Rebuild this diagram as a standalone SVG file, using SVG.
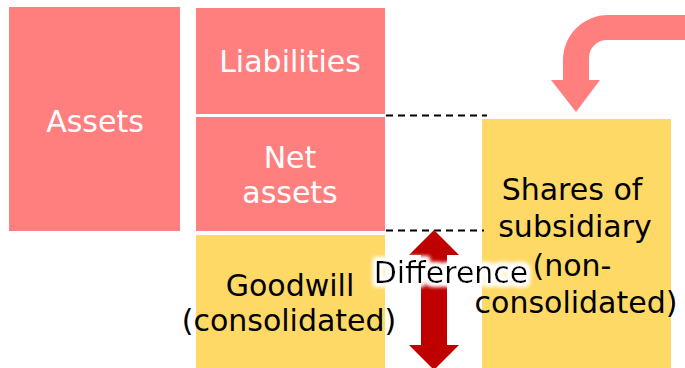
<svg xmlns="http://www.w3.org/2000/svg" width="685" height="368" viewBox="0 0 685 368">
  <defs>
    <style>
      .pink { fill: #FF7F7F; }
      .gold { fill: #FFD966; }
      .lbl { font-family: "DejaVu Sans", Verdana, sans-serif; font-size: 30px; text-anchor: middle; }
      .white { fill: #FFFFFF; }
      .dark { fill: #000000; }
      .dash { stroke: #000000; stroke-width: 2; stroke-dasharray: 7 5; fill: none; }
    </style>
    <filter id="halo" x="-10%" y="-30%" width="120%" height="160%">
      <feMorphology in="SourceAlpha" operator="dilate" radius="2.5" result="grow"/>
      <feGaussianBlur in="grow" stdDeviation="2" result="soft"/>
      <feFlood flood-color="#FFFFFF"/>
      <feComposite in2="soft" operator="in" result="glow"/>
      <feMerge>
        <feMergeNode in="glow"/>
        <feMergeNode in="glow"/>
        <feMergeNode in="SourceGraphic"/>
      </feMerge>
    </filter>
  </defs>

  <rect width="685" height="368" fill="#FFFFFF"/>

  <g id="assets">
    <rect class="pink" x="9" y="7" width="171" height="224"/>
    <text class="lbl white" x="95" y="132">Assets</text>
  </g>

  <g id="liabilities">
    <rect class="pink" x="196" y="8" width="189" height="106"/>
    <text class="lbl white" x="290" y="72">Liabilities</text>
  </g>

  <g id="net-assets">
    <rect class="pink" x="196" y="117" width="189" height="114"/>
    <text class="lbl white" x="290" y="168">Net</text>
    <text class="lbl white" x="290" y="203">assets</text>
  </g>

  <g id="goodwill">
    <rect class="gold" x="196" y="235" width="189" height="133"/>
    <text class="lbl dark" x="290" y="296">Goodwill</text>
    <text class="lbl dark" x="289" y="331">(consolidated)</text>
  </g>

  <g id="shares">
    <rect class="gold" x="482" y="119" width="189" height="249"/>
    <text class="lbl dark" x="572" y="200">Shares of</text>
    <text class="lbl dark" x="575" y="237">subsidiary</text>
    <text class="lbl dark" x="572" y="276">(non-</text>
    <text class="lbl dark" x="576" y="313">consolidated)</text>
  </g>

  <g id="connectors">
    <line class="dash" x1="386" y1="115.5" x2="487" y2="115.5"/>
    <line class="dash" x1="386" y1="230.5" x2="484" y2="230.5"/>
    <!-- incoming bent arrow -->
    <path class="pink" d="M685,15 L608,15 A45,45 0 0 0 563,60 L563,80 L551,80 L576,112 L600,80 L589,80 L589,58 A18,18 0 0 1 607,40 L685,40 Z"/>
    <!-- double-headed difference arrow -->
    <path fill="#C00000" d="M434,230 L459,255 L447,255 L447,345 L459,345 L434,370 L409,345 L421,345 L421,255 L409,255 Z"/>
  </g>

  <g id="difference">
    <text class="lbl dark" x="451" y="283" filter="url(#halo)">Difference</text>
  </g>
</svg>
